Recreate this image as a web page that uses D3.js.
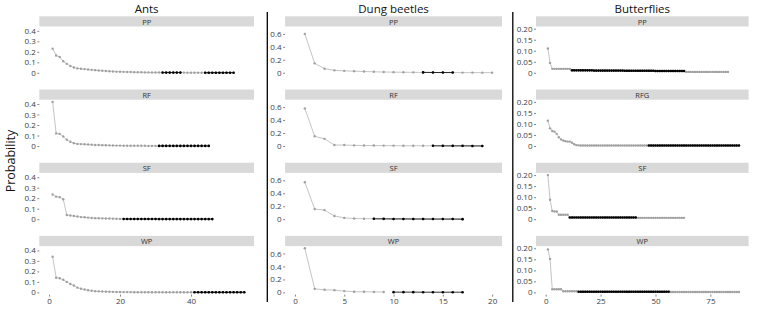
<!DOCTYPE html>
<html><head><meta charset="utf-8">
<script src="https://cdn.jsdelivr.net/npm/d3@7"></script>
<style>body{margin:0;background:#fff}svg{display:block}</style>
</head><body><svg id="c" width="768" height="317"></svg>
<script>
// ---------------- data ----------------
const colTitles = ["Ants", "Dung beetles", "Butterflies"];
const panelLabels = [["PP","RF","SF","WP"],["PP","RF","SF","WP"],["PP","RFG","SF","WP"]];
const xMaxes = [55, 20, 88];
const yMaxes = [0.42, 0.68, 0.2];
const antsYTicks = [0, 0.1, 0.2, 0.3, 0.4];
const dungYTicks = [0, 0.2, 0.4, 0.6];
const butYTicks = [0, 0.05, 0.10, 0.15, 0.20];
const antsXTicks = [0, 20, 40];
const dungXTicks = [0, 5, 10, 15, 20];
const butXTicks = [0, 25, 50, 75];

// probabilities by rank (rank 1 first)
const antsPP = [0.23,0.165,0.15,0.11,0.085,0.065,0.05,0.042,0.038,0.035,
  0.032,0.028,0.025,0.022,0.02,0.017,0.015,0.013,0.011,0.01,
  0.009,0.008,0.007,0.006,0.005,0.005,0.004,0.004,0.003,0.003,
  0.003,0.002,0.002,0.002,0.002,0.002,0.002,0.002,0.001,0.001,
  0.001,0.001,0.001,0.001,0.001,0.001,0.001,0.001,0.001,0.001,
  0.001,0.001];
const antsRF = [0.42,0.12,0.115,0.09,0.06,0.04,0.027,0.02,0.018,0.016,
  0.014,0.012,0.01,0.009,0.008,0.007,0.006,0.005,0.004,0.004,
  0.003,0.003,0.003,0.002,0.002,0.002,0.002,0.001,0.001,0.001,
  0.001,0.001,0.001,0.001,0.001,0.001,0.001,0.001,0.001,0.001,
  0.001,0.001,0.001,0.001,0.001];
const antsSF = [0.235,0.215,0.21,0.19,0.04,0.035,0.03,0.025,0.02,0.018,
  0.015,0.012,0.01,0.009,0.008,0.007,0.006,0.005,0.004,0.003,
  0.002,0.002,0.002,0.002,0.002,0.002,0.002,0.002,0.002,0.002,
  0.001,0.001,0.001,0.001,0.001,0.001,0.001,0.001,0.001,0.001,
  0.001,0.001,0.001,0.001,0.001,0.001];
const antsWP = [0.34,0.14,0.135,0.12,0.10,0.08,0.065,0.045,0.035,0.027,
  0.02,0.016,0.012,0.01,0.008,0.007,0.006,0.005,0.004,0.004,
  0.003,0.003,0.003,0.002,0.002,0.002,0.002,0.002,0.002,0.002,
  0.001,0.001,0.001,0.001,0.001,0.001,0.001,0.001,0.001,0.001,
  0.001,0.001,0.001,0.001,0.001,0.001,0.001,0.001,0.001,0.001,
  0.001,0.001,0.001,0.001,0.001];
const dungPP = [0.60,0.146,0.063,0.038,0.03,0.025,0.02,0.015,0.012,0.01,
  0.008,0.007,0.006,0.005,0.004,0.004,0.003,0.003,0.002,0.002];
const dungRF = [0.58,0.15,0.11,0.015,0.015,0.01,0.008,0.007,0.006,0.005,
  0.004,0.004,0.003,0.003,0.002,0.002,0.002,0.001,0.001];
const dungSF = [0.57,0.157,0.14,0.05,0.02,0.01,0.008,0.006,0.005,0.004,
  0.004,0.003,0.003,0.002,0.002,0.002,0.001];
const dungWP = [0.68,0.055,0.04,0.035,0.02,0.01,0.01,0.008,0.006,0.004,
  0.004,0.004,0.003,0.003,0.003,0.003,0.003];
const butPP = [0.11,0.045,
  0.018,0.018,0.018,0.018,0.018,0.018,0.018,0.018,0.018,
  0.011,0.011,0.011,0.011,0.011,0.011,0.011,0.011,0.011,0.011,
  0.010,0.010,0.010,0.010,0.010,0.010,0.010,0.010,0.010,0.010,0.010,0.010,0.010,0.010,
  0.009,0.009,0.009,0.009,0.009,0.009,0.009,0.009,0.009,0.009,0.009,0.009,0.009,0.009,
  0.008,0.008,0.008,0.008,0.008,0.008,0.008,0.008,0.008,0.008,0.008,0.008,0.008,0.008,
  0.004,0.004,0.004,0.004,0.004,0.004,0.004,0.004,0.004,0.004,
  0.004,0.004,0.004,0.004,0.004,0.004,0.004,0.004,0.004,0.004];
const butRFG = [0.115,0.08,0.068,0.065,0.055,0.04,0.03,0.025,0.022,0.02,
  0.02,0.015,0.008,0.004,0.003,
  0.002,0.002,0.002,0.002,0.002,0.002,0.002,0.002,0.002,0.002,
  0.002,0.002,0.002,0.002,0.002,0.002,0.002,0.002,0.002,0.002,
  0.002,0.002,0.002,0.002,0.002,0.002,0.002,0.002,0.002,0.002,
  0.002,0.002,0.002,0.002,0.002,0.002,0.002,0.002,0.002,0.002,
  0.002,0.002,0.002,0.002,0.002,0.002,0.002,0.002,0.002,0.002,
  0.002,0.002,0.002,0.002,0.002,0.002,0.002,0.002,0.002,0.002,
  0.002,0.002,0.002,0.002,0.002,0.002,0.002,0.002,0.002,0.002,
  0.002,0.002,0.002];
const butSF = [0.2,0.088,0.037,0.035,0.035,0.02,0.02,0.02,0.02,0.02,
  0.008,0.008,0.008,0.008,0.008,0.008,0.008,0.008,0.008,0.008,
  0.008,0.008,0.008,0.008,0.008,0.008,0.008,0.008,0.008,0.008,
  0.008,0.008,0.008,0.008,0.008,0.008,0.008,0.008,0.008,0.008,0.008,
  0.006,0.006,0.006,0.006,0.006,0.006,0.006,0.006,0.006,0.006,0.006,
  0.006,0.006,0.006,0.006,0.006,0.006,0.006,0.006,0.006,0.006,0.006];
const butWP = [0.195,0.152,
  0.014,0.014,0.014,0.014,0.014,
  0.005,0.005,0.005,0.005,0.005,0.005,0.005,
  0.003,0.003,0.003,0.003,0.003,0.003,0.003,0.003,0.003,0.003,
  0.003,0.003,0.003,0.003,0.003,0.003,0.003,0.003,0.003,0.003,
  0.003,0.003,0.003,0.003,0.003,0.003,0.003,0.003,0.003,0.003,
  0.003,0.003,0.003,0.003,0.003,0.003,0.003,0.003,0.003,0.003,
  0.003,0.003,
  0.002,0.002,0.002,0.002,0.002,0.002,0.002,0.002,0.002,0.002,
  0.002,0.002,0.002,0.002,0.002,0.002,0.002,0.002,0.002,0.002,
  0.002,0.002,0.002,0.002,0.002,0.002,0.002,0.002,0.002,0.002,
  0.002,0.002];

// last rank of the grey series, and rank ranges of the black series
const grayEnds = [[52,45,46,55],[20,19,17,9],[83,88,63,88]];
const blackRanges = [
  [[[32,37],[44,52]], [[31,45]], [[21,46]], [[41,55]]],
  [[[13,16]], [[14,19]], [[8,17]], [[10,17]]],
  [[[12,63]], [[47,88]], [[11,41]], [[15,56]]]
];
const seriesByCol = [[antsPP,antsRF,antsSF,antsWP],[dungPP,dungRF,dungSF,dungWP],[butPP,butRFG,butSF,butWP]];
const yTicksByCol = [antsYTicks, dungYTicks, butYTicks];
const xTicksByCol = [antsXTicks, dungXTicks, butXTicks];

// ---------------- layout ----------------
const FONT = "'Open Sans', 'DejaVu Sans', sans-serif";
const colX = [[39.3,254],[285.1,502],[536,748.6]];
const stripTop0 = 16.3, stripStep = 73.2, stripH = 10.2, panelH = 48.5;
const yFormats = [d => d === 0 ? "0" : d3.format(".1f")(d), d => d === 0 ? "0" : d3.format(".1f")(d), d => d === 0 ? "0" : d3.format(".2f")(d)];

const svg = d3.select("#c");
svg.append("rect").attr("width",768).attr("height",317).attr("fill","#fff");

colTitles.forEach((title, c) => {
  const [x0, x1] = colX[c];
  const xMax = xMaxes[c], yMax = yMaxes[c];
  const x = d3.scaleLinear().domain([-0.05*xMax, 1.05*xMax]).range([x0, x1]);
  svg.append("text").attr("x",(x0+x1)/2).attr("y",12.8).attr("text-anchor","middle")
    .attr("font-family",FONT).attr("font-size",11.5).attr("fill","#111").text(title);

  panelLabels[c].forEach((lab, i) => {
    const sTop = stripTop0 + i*stripStep;
    const pTop = sTop + stripH, pBot = pTop + panelH;
    const y = d3.scaleLinear().domain([-0.05*yMax, 1.05*yMax]).range([pBot, pTop]);
    svg.append("rect").attr("x",x0).attr("y",sTop).attr("width",x1-x0).attr("height",stripH).attr("fill","#d9d9d9");
    svg.append("text").attr("x",(x0+x1)/2).attr("y",sTop+stripH/2+3.1).attr("text-anchor","middle")
      .attr("font-family",FONT).attr("font-size",7.5).attr("fill","#333").text(lab);

    const ya = svg.append("g").attr("transform",`translate(${x0},0)`)
      .call(d3.axisLeft(y).tickValues(yTicksByCol[c]).tickSize(2).tickPadding(1.5).tickFormat(yFormats[c]));
    ya.select(".domain").remove();
    ya.selectAll("line").attr("stroke","#333").attr("stroke-width",0.6);
    ya.selectAll("text").attr("font-family",FONT).attr("font-size",8).attr("fill","#404040");

    if (i === 3) {
      const xa = svg.append("g").attr("transform",`translate(0,${pBot})`)
        .call(d3.axisBottom(x).tickValues(xTicksByCol[c]).tickSize(2).tickPadding(2).tickFormat(d3.format("d")));
      xa.select(".domain").remove();
      xa.selectAll("line").attr("stroke","#333").attr("stroke-width",0.6);
      xa.selectAll("text").attr("font-family",FONT).attr("font-size",8).attr("fill","#404040");
    }

    const vals = seriesByCol[c][i];
    const pts = vals.map((v, k) => ({r: k+1, v}));
    const line = d3.line().x(d => x(d.r)).y(d => y(d.v));
    const grey = pts.filter(d => d.r <= grayEnds[c][i]);
    svg.append("path").attr("d", line(grey)).attr("fill","none").attr("stroke","#b5b5b5").attr("stroke-width",0.8);
    svg.append("g").selectAll("circle").data(grey).join("circle")
      .attr("cx", d => x(d.r)).attr("cy", d => y(d.v)).attr("r", 1.2).attr("fill","#a0a0a0");
    blackRanges[c][i].forEach(([a, b]) => {
      const bp = pts.filter(d => d.r >= a && d.r <= b);
      svg.append("path").attr("d", line(bp)).attr("fill","none").attr("stroke","#000").attr("stroke-width",0.8);
      svg.append("g").selectAll("circle").data(bp).join("circle")
        .attr("cx", d => x(d.r)).attr("cy", d => y(d.v)).attr("r", 1.3).attr("fill","#000");
    });
  });
});

// column separators
[267.3, 512.8].forEach(xx => {
  svg.append("line").attr("x1",xx).attr("x2",xx).attr("y1",12).attr("y2",302)
    .attr("stroke","#000").attr("stroke-width",1.3);
});

svg.append("text").attr("transform","translate(15,161) rotate(-90)").attr("text-anchor","middle")
  .attr("font-family",FONT).attr("font-size",12.5).attr("fill","#111").text("Probability");
</script>
</body></html>
